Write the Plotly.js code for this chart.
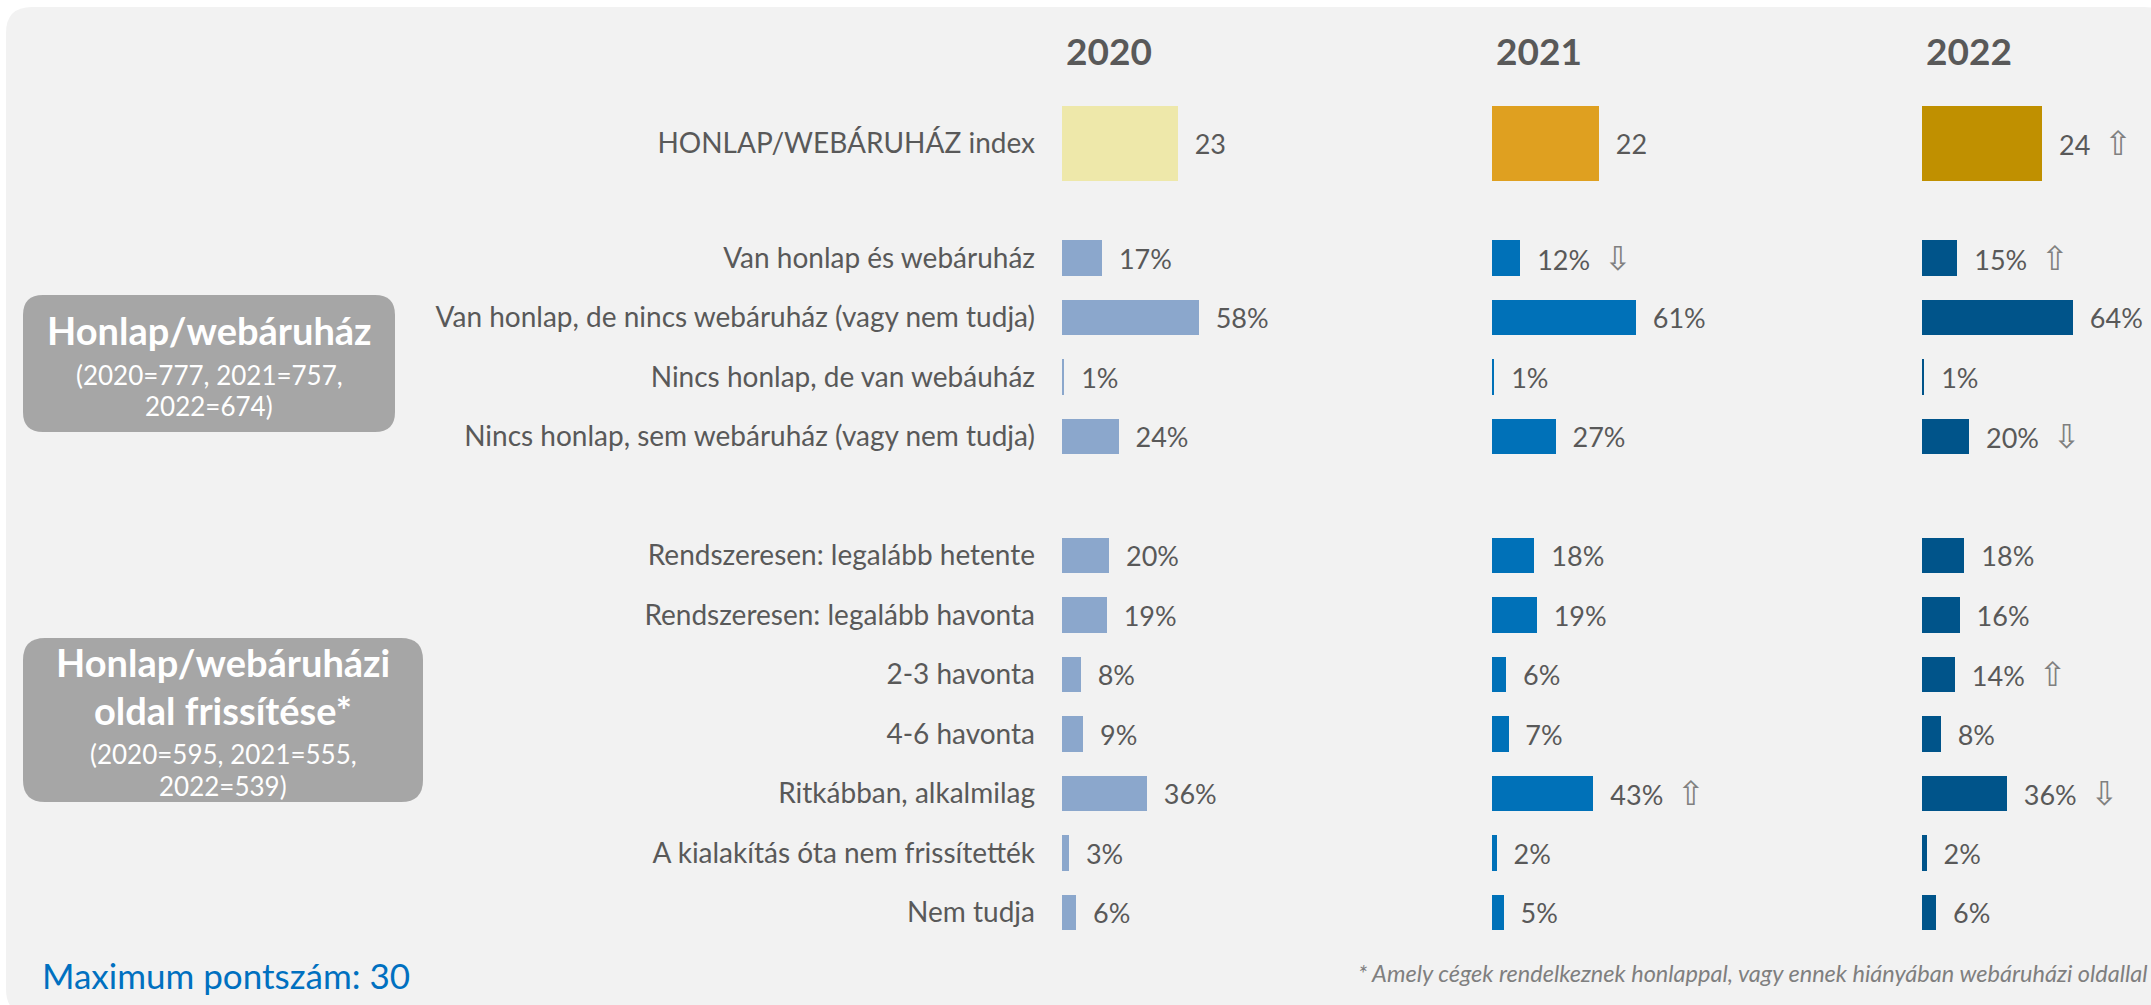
<!DOCTYPE html>
<html>
<head>
<meta charset="utf-8">
<script src="https://cdn.plot.ly/plotly-3.0.1.min.js"></script>
<style>
  html, body { margin: 0; padding: 0; background: #ffffff; }
  #chart { width: 2151px; height: 1005px; }
</style>
</head>
<body>
<div id="chart"></div>
<script>
// ---------------- DATA ----------------
const years = ['2020', '2021', '2022'];

const indexLabel = ['HONLAP/WEBÁRUHÁZ index'];
const indexValues = [23.4, 21.6, 24.3];          // displayed as 23, 22, 24
const indexArrows = ['', '', 'up'];

const websiteCats = [
  'Van honlap és webáruház',
  'Van honlap, de nincs webáruház (vagy nem tudja)',
  'Nincs honlap, de van webáuház',
  'Nincs honlap, sem webáruház (vagy nem tudja)'
];
const website2020 = [17, 58, 1, 24];
const website2021 = [12, 61, 1, 27];
const website2022 = [15, 64, 1, 20];
const websiteArrows2020 = ['', '', '', ''];
const websiteArrows2021 = ['down', '', '', ''];
const websiteArrows2022 = ['up', '', '', 'down'];

const updateCats = [
  'Rendszeresen: legalább hetente',
  'Rendszeresen: legalább havonta',
  '2-3 havonta',
  '4-6 havonta',
  'Ritkábban, alkalmilag',
  'A kialakítás óta nem frissítették',
  'Nem tudja'
];
const update2020 = [20, 19, 8, 9, 36, 3, 6];
const update2021 = [18, 19, 6, 7, 43, 2, 5];
const update2022 = [18, 16, 14, 8, 36, 2, 6];
const updateArrows2020 = ['', '', '', '', '', '', ''];
const updateArrows2021 = ['', '', '', '', 'up', '', ''];
const updateArrows2022 = ['', '', 'up', '', 'down', '', ''];

const box1Lines = ['Honlap/webáruház', '(2020=777, 2021=757,', '2022=674)'];
const box2Lines = ['Honlap/webáruházi', 'oldal frissítése*', '(2020=595, 2021=555,', '2022=539)'];
const maxScoreText = 'Maximum pontszám: 30';
const footnoteText = '* Amely cégek rendelkeznek honlappal, vagy ennek hiányában webáruházi oldallal';

// ---------------- STYLE ----------------
const W = 2151, H = 1005;
const X = px => px / W;
const Y = py => 1 - py / H;
const FONT = 'Lato, "Open Sans", sans-serif';
const TXT = '#595959';
const pctColors = ['#8BA7CC', '#0071B8', '#00548A'];
const idxColors = ['#EEE8AA', '#DFA020', '#C09000'];
const arrowGlyph = { up: '⇧', down: '⇩' };
const SP = '\u00a0';

const starts = [1062, 1492, 1922];
const panelW = 200;
const pxPerPct = 2.36;
const pxPerIdx = 4.95;

const spacer = ' ';
const rowCats = websiteCats.concat([spacer], updateCats);
const pctByYear = [
  website2020.concat([null], update2020),
  website2021.concat([null], update2021),
  website2022.concat([null], update2022)
];
const arrowsByYear = [
  websiteArrows2020.concat([''], updateArrows2020),
  websiteArrows2021.concat([''], updateArrows2021),
  websiteArrows2022.concat([''], updateArrows2022)
];

function arrowSpan(a) {
  return a ? SP + SP + '<span style="color:#808080;font-family:\'DejaVu Sans\';font-size:33px">' + arrowGlyph[a] + '</span>' : '';
}

const traces = [];
years.forEach((yr, i) => {
  const ax = i === 0 ? 'x' : 'x' + (i + 1);
  traces.push({
    type: 'bar', orientation: 'h',
    x: pctByYear[i], y: rowCats,
    xaxis: ax, yaxis: 'y',
    width: 0.59,
    marker: { color: pctColors[i], line: { width: 0 } },
    text: pctByYear[i].map((v, k) => v == null ? '' : SP + SP + v + '%' + arrowSpan(arrowsByYear[i][k])),
    textposition: 'outside',
    textfont: { family: FONT, size: 27, color: TXT },
    cliponaxis: false, constraintext: 'none',
    hoverinfo: 'skip', showlegend: false
  });
  traces.push({
    type: 'bar', orientation: 'h',
    x: [indexValues[i]], y: indexLabel,
    xaxis: 'x' + (i + 4), yaxis: 'y2',
    width: 0.75,
    marker: { color: idxColors[i], line: { width: 0 } },
    text: [SP + SP + Math.round(indexValues[i]) + arrowSpan(indexArrows[i])],
    textposition: 'outside',
    textfont: { family: FONT, size: 27, color: TXT },
    cliponaxis: false, constraintext: 'none',
    hoverinfo: 'skip', showlegend: false
  });
});

const layout = {
  width: W, height: H,
  margin: { l: 0, r: 0, t: 0, b: 0, pad: 0 },
  paper_bgcolor: '#ffffff',
  plot_bgcolor: 'rgba(0,0,0,0)',
  font: { family: FONT, color: TXT },
  showlegend: false,
  bargap: 0,
  yaxis: {
    domain: [Y(942.25), Y(228.25)],
    type: 'category', range: [rowCats.length - 0.5, -0.5],
    anchor: 'x', showgrid: false, zeroline: false, showline: false,
    ticks: '', ticklabelstandoff: 26,
    tickfont: { family: FONT, size: 28, color: TXT },
    fixedrange: true
  },
  yaxis2: {
    domain: [Y(193.5), Y(93.5)],
    type: 'category', range: [0.5, -0.5],
    anchor: 'x4', showgrid: false, zeroline: false, showline: false,
    ticks: '', ticklabelstandoff: 26,
    tickfont: { family: FONT, size: 28, color: TXT },
    fixedrange: true
  },
  shapes: [],
  annotations: []
};

starts.forEach((s, i) => {
  const pName = i === 0 ? 'xaxis' : 'xaxis' + (i + 1);
  layout[pName] = {
    domain: [X(s), X(s + panelW)], range: [0, panelW / pxPerPct],
    anchor: 'y', visible: false, fixedrange: true
  };
  layout['xaxis' + (i + 4)] = {
    domain: [X(s), X(s + panelW)], range: [0, panelW / pxPerIdx],
    anchor: 'y2', visible: false, fixedrange: true
  };
  layout.annotations.push({
    text: '<b>' + years[i] + '</b>', xref: 'paper', yref: 'paper',
    x: X(s + 2), y: Y(51), xanchor: 'left', yanchor: 'middle', showarrow: false,
    font: { family: FONT, size: 37, color: TXT }
  });
});

function roundRect(x0, y0, x1, y1, r, color) {
  const p = [
    'M', X(x0 + r), Y(y0),
    'L', X(x1 - r), Y(y0),
    'Q', X(x1), Y(y0), X(x1), Y(y0 + r),
    'L', X(x1), Y(y1 - r),
    'Q', X(x1), Y(y1), X(x1 - r), Y(y1),
    'L', X(x0 + r), Y(y1),
    'Q', X(x0), Y(y1), X(x0), Y(y1 - r),
    'L', X(x0), Y(y0 + r),
    'Q', X(x0), Y(y0), X(x0 + r), Y(y0), 'Z'
  ].join(' ');
  return { type: 'path', xref: 'paper', yref: 'paper', path: p,
           fillcolor: color, line: { width: 0 }, layer: 'below' };
}
layout.shapes.push(roundRect(6, 7, 2170, 1015, 26, '#F2F2F2'));
layout.shapes.push(roundRect(23, 295, 395, 432, 20, '#A6A6A6'));
layout.shapes.push(roundRect(23, 638, 423, 802, 22, '#A6A6A6'));

function boxText(text, cx, cy, size, bold) {
  layout.annotations.push({
    text: bold ? '<b>' + text + '</b>' : text,
    xref: 'paper', yref: 'paper', x: X(cx), y: Y(cy),
    xanchor: 'center', yanchor: 'middle', showarrow: false,
    font: { family: FONT, size: size, color: '#ffffff' }
  });
}
boxText(box1Lines[0], 209, 330, 38, true);
boxText(box1Lines[1], 209, 375, 26, false);
boxText(box1Lines[2], 209, 406, 26, false);
boxText(box2Lines[0], 223, 662, 38, true);
boxText(box2Lines[1], 223, 710, 38, true);
boxText(box2Lines[2], 223, 754, 26, false);
boxText(box2Lines[3], 223, 786, 26, false);

layout.annotations.push({
  text: maxScoreText, xref: 'paper', yref: 'paper',
  x: X(40), y: Y(975), xanchor: 'left', yanchor: 'middle', showarrow: false,
  font: { family: FONT, size: 35, color: '#0070C0' }
});
layout.annotations.push({
  text: footnoteText, xref: 'paper', yref: 'paper',
  x: X(2150), y: Y(973), xanchor: 'right', yanchor: 'middle', showarrow: false,
  font: { family: FONT, size: 23.5, color: '#7F7F7F', style: 'italic' }
});

Plotly.newPlot('chart', traces, layout, { staticPlot: true, displayModeBar: false });
</script>
</body>
</html>
